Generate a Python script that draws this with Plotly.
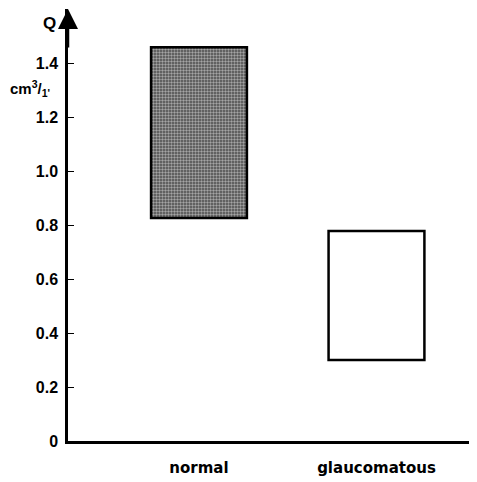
import plotly.graph_objects as go

categories = ["normal", "glaucomatous"]
low_values = [0.826, 0.30]
high_values = [1.458, 0.778]
y_ticks = [0, 0.2, 0.4, 0.6, 0.8, 1.0, 1.2, 1.4]
y_tick_labels = ["0", "0.2", "0.4", "0.6", "0.8", "1.0", "1.2", "1.4"]

heights = [h - l for h, l in zip(high_values, low_values)]

fig = go.Figure()
fig.add_trace(go.Bar(
    x=categories, y=heights, base=low_values, width=0.54,
    marker=dict(
        color=["#4a4a4a", "white"],
        line=dict(color="black", width=2.5),
        pattern=dict(shape=[".", ""], fgcolor="#0a0a0a", bgcolor="#5e5e5e", size=3, solidity=0.5),
    ),
    showlegend=False, hoverinfo="skip",
))

font_family = "Liberation Sans, Arial, sans-serif"
x_font = "DejaVu Sans, sans-serif"

# page body has an 8px margin, so the figure is offset by (8, 8) in the window
fig.update_layout(
    width=469, height=474,
    margin=dict(l=60, r=2, t=1, b=41, autoexpand=False),
    paper_bgcolor="white", plot_bgcolor="white",
    xaxis=dict(
        type="category", range=[-0.738, 1.555], automargin=False,
        showline=True, linecolor="black", linewidth=2.5,
        showgrid=False, zeroline=False, ticks="",
        tickfont=dict(family=x_font, size=15, color="black", weight="bold"),
        ticklabelstandoff=11,
    ),
    yaxis=dict(
        range=[0, 1.6], tickvals=y_ticks, ticktext=y_tick_labels, automargin=False,
        showline=True, linecolor="black", linewidth=2.5,
        showgrid=False, zeroline=False,
        ticks="inside", ticklen=6, tickwidth=1, tickcolor="black",
        tickfont=dict(family=font_family, size=16, color="black", weight="bold"),
        ticklabelstandoff=4,
    ),
    annotations=[
        dict(x=0, y=1.0, xref="paper", yref="paper", ax=0, ay=40, axref="pixel", ayref="pixel",
             showarrow=True, arrowhead=2, arrowsize=1.6, arrowwidth=2.5, arrowcolor="black", text=""),
        dict(x=-0.045, y=1.545, xref="paper", yref="y", xanchor="center", yanchor="middle",
             text="<b>Q</b>", showarrow=False,
             font=dict(family=font_family, size=17, color="black")),
        dict(x=-0.093, y=1.307, xref="paper", yref="y", xanchor="center", yanchor="middle",
             text="<b>cm<sup>3</sup>/<sub>1'</sub></b>", showarrow=False,
             font=dict(family=font_family, size=15, color="black")),
    ],
)

fig.write_html("out.html")
